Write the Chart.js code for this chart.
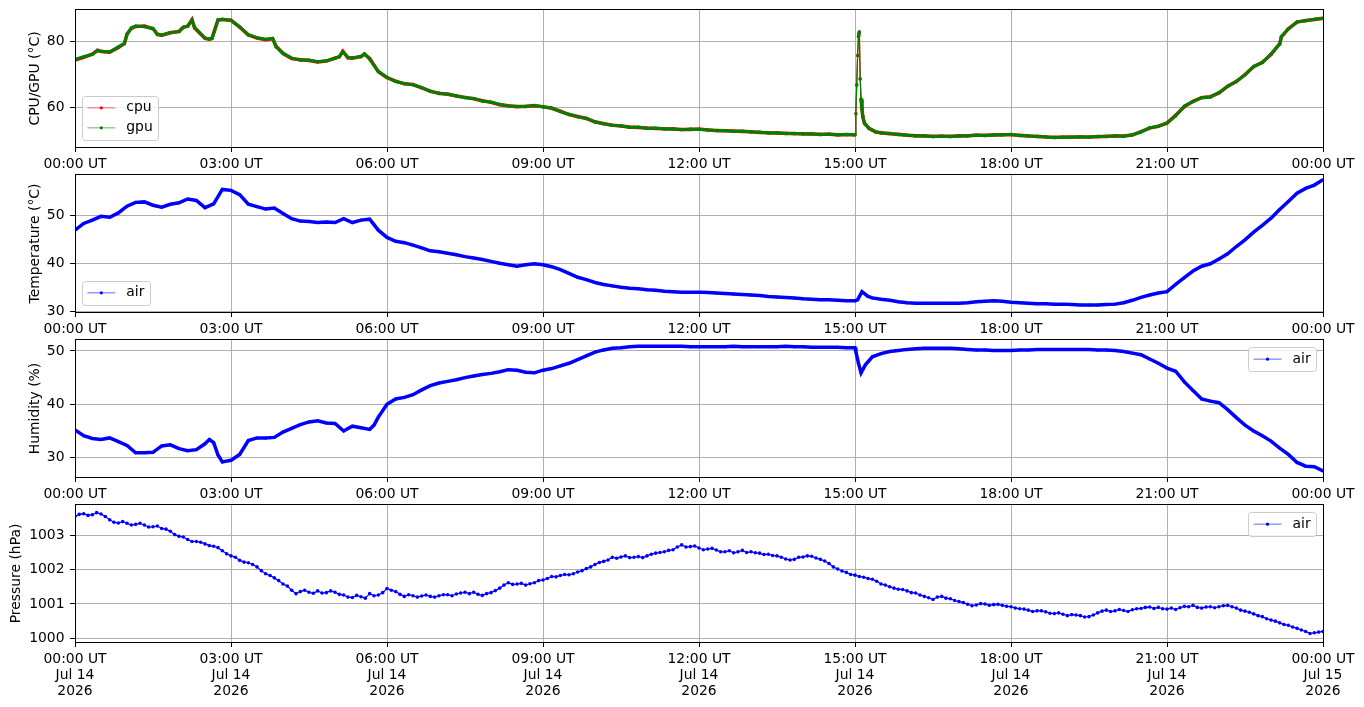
<!DOCTYPE html>
<html><head><meta charset="utf-8">
<script src="https://cdn.jsdelivr.net/npm/chart.js@4.4.1/dist/chart.umd.min.js"></script>
<style>
html,body{margin:0;padding:0;background:#fff;}
body{width:1364px;height:707px;position:relative;overflow:hidden;}
.p{position:absolute;left:0;width:1364px;}
</style></head><body>
<div class="p" style="top:0;height:175px"><canvas id="c1"></canvas></div>
<div class="p" style="top:165px;height:175px"><canvas id="c2"></canvas></div>
<div class="p" style="top:330px;height:175px"><canvas id="c3"></canvas></div>
<div class="p" style="top:495px;height:212px"><canvas id="c4"></canvas></div>
<script>
// ---- x axis (minutes since 00:00 UT, Jul 14 2026) ----
const xTickValues = [0,180,360,540,720,900,1080,1260,1440];
const xTickTimes = ["00:00 UT","03:00 UT","06:00 UT","09:00 UT","12:00 UT","15:00 UT","18:00 UT","21:00 UT","00:00 UT"];
const xTickDates = ["Jul 14","Jul 14","Jul 14","Jul 14","Jul 14","Jul 14","Jul 14","Jul 14","Jul 15"];
const xTickYears = ["2026","2026","2026","2026","2026","2026","2026","2026","2026"];

// ---- panel 1: CPU / GPU temperature ----
const tCpu = [0,10,20,26,30,40,50,57,60,65,70,80,90,95,100,110,120,125,130,135,138,150,155,158,161,165,170,180,190,200,210,220,228,232,240,250,260,270,280,290,300,305,309,315,320,330,334,340,350,360,
370,380,390,400,410,420,430,440,450,460,470,480,490,500,510,520,530,540,550,560,570,580,590,600,610,620,630,640,650,660,670,680,690,700,710,720,730,740,750,760,770,780,790,800,810,820,830,840,850,860,870,880,890,900,
901,902,903,904,905,906,907,908,909,911,916,924,930,
940,950,960,970,980,990,1000,1010,1020,1030,1040,1050,1060,1070,1080,1090,1100,1110,1120,1130,1140,1150,1160,1170,1180,1190,1200,1210,1220,1230,1240,1250,1260,1270,1280,1290,1300,1310,1320,1330,1340,1350,1360,1370,1380,1390,
1392,1400,1410,1420,1430,1440];
const cpuTemp = [74.3,75.1,76.1,77.3,76.9,76.7,78.1,79.3,82.2,83.9,84.5,84.6,83.8,82.2,81.8,82.6,83.0,84.2,84.6,86.6,84.0,80.9,80.6,80.8,83.3,86.5,86.6,86.4,84.3,81.9,81.0,80.5,80.8,78.5,76.3,74.8,74.4,74.2,73.7,74.0,74.9,75.3,77.0,75.0,74.9,75.4,76.1,74.8,70.8,69.0,
67.9,67.1,66.9,65.9,64.9,64.2,64.0,63.4,63.0,62.6,62.0,61.5,60.8,60.5,60.2,60.3,60.5,60.2,59.7,58.8,57.8,57.2,56.6,55.6,55.0,54.6,54.3,54.0,53.9,53.7,53.6,53.5,53.4,53.3,53.3,53.4,53.1,53.0,52.9,52.8,52.7,52.6,52.4,52.3,52.2,52.1,52.0,52.0,51.9,51.8,51.8,51.7,51.7,51.7,
58.2,66.7,75.8,81.3,82.8,68.8,62.4,59.7,57.1,55.2,53.6,52.5,52.3,
52.0,51.8,51.5,51.4,51.3,51.2,51.2,51.2,51.3,51.4,51.5,51.5,51.6,51.7,51.7,51.5,51.3,51.2,51.0,50.9,50.9,51.0,51.0,51.0,51.1,51.2,51.3,51.3,51.6,52.6,53.7,54.3,55.2,57.6,60.2,61.8,62.9,63.2,64.3,66.4,67.8,69.9,72.3,73.6,76.0,79.3,
81.3,83.8,85.8,86.3,86.6,87.0];
const gpuTemp = [74.5,75.3,76.0,77.1,77.0,76.8,78.3,79.4,82.0,84.1,84.6,84.4,83.9,82.0,81.9,82.7,82.9,84.3,84.5,86.4,84.2,81.0,80.7,80.9,83.1,86.4,86.7,86.3,84.4,82.0,81.1,80.6,80.9,78.3,76.4,74.9,74.3,74.3,73.8,74.1,74.8,75.4,76.8,75.1,75.0,75.3,76.2,74.6,70.9,69.1,
67.8,67.2,66.8,66.0,64.8,64.3,63.9,63.5,62.9,62.7,61.9,61.6,60.9,60.4,60.3,60.2,60.6,60.1,59.8,58.7,57.9,57.1,56.7,55.5,55.1,54.5,54.4,53.9,54.0,53.6,53.7,53.4,53.5,53.2,53.4,53.3,53.2,52.9,53.0,52.7,52.8,52.5,52.5,52.2,52.3,52.0,52.1,51.9,52.0,51.7,51.9,51.6,51.8,51.6,
58.0,66.9,75.6,81.5,82.9,68.5,62.6,59.5,57.3,55.0,53.7,52.6,52.2,
52.1,51.7,51.6,51.3,51.4,51.1,51.3,51.1,51.4,51.3,51.6,51.4,51.7,51.6,51.8,51.4,51.4,51.1,51.1,50.8,51.0,50.9,51.1,50.9,51.2,51.1,51.4,51.2,51.7,52.5,53.8,54.2,55.3,57.4,60.4,61.7,63.0,63.1,64.5,66.3,67.9,69.8,72.4,73.5,76.2,79.1,
81.5,83.7,85.9,86.2,86.7,86.9];

// ---- panel 2: air temperature ----
const tAir = [0,10,20,30,40,50,60,70,80,90,100,110,120,130,140,150,160,170,180,190,200,210,220,230,240,250,260,270,280,290,300,310,320,330,340,350,360,370,380,390,400,410,420,430,440,450,460,470,480,490,500,510,520,530,540,550,560,570,580,590,600,610,620,630,640,650,660,670,680,690,700,710,720,730,740,750,760,770,780,790,800,810,820,830,840,850,860,870,880,890,900,
903,908,915,
920,930,940,950,960,970,980,990,1000,1010,1020,1030,1040,1050,1060,1070,1080,1090,1100,1110,1120,1130,1140,1150,1160,1170,1180,1190,1200,1210,1220,1230,1240,1250,1260,1270,1280,1290,1300,1310,1320,1330,1340,1350,1360,1370,1380,1390,1400,1410,1420,1430,1440];
const airTemp = [46.9,48.3,49.0,49.8,49.6,50.5,51.9,52.7,52.8,52.1,
51.7,52.3,52.6,53.4,53.1,51.6,52.4,55.4,55.2,54.3,
52.3,51.8,51.3,51.5,50.4,49.3,48.8,48.7,48.5,48.6,
48.5,49.3,48.5,49.0,49.2,46.9,45.4,44.6,44.3,43.8,
43.2,42.6,42.4,42.1,41.8,41.4,41.1,40.8,40.4,40.0,
39.7,39.4,39.7,39.9,39.7,39.3,38.7,37.9,37.1,36.6,
36.0,35.6,35.3,35.0,34.8,34.7,34.5,34.4,34.2,34.1,
34.0,34.0,34.0,33.9,33.8,33.7,33.6,33.5,33.4,33.3,
33.1,33.0,32.9,32.8,32.6,32.5,32.4,32.4,32.3,32.2,
32.2,
32.4,34.1,33.1,
32.8,32.5,32.3,32.0,31.8,31.7,31.7,31.7,
31.7,31.7,31.7,31.8,32.0,32.1,32.2,32.1,31.9,31.8,
31.7,31.6,31.6,31.5,31.5,31.4,31.3,31.3,31.3,31.4,
31.5,31.8,32.3,32.9,33.4,33.8,34.1,35.6,37.0,38.4,
39.4,39.9,40.9,42.0,43.5,44.9,46.5,47.9,49.4,51.2,
52.9,54.6,55.6,56.3,57.4];

// ---- panel 3: humidity ----
const tHum = [0,10,20,30,40,50,60,70,80,90,100,110,120,130,140,150,155,160,165,170,
180,190,200,210,220,230,240,250,260,270,280,290,300,310,320,330,340,345,
350,360,370,380,390,400,410,420,430,440,450,460,470,480,490,500,510,520,530,540,550,560,570,580,590,600,610,620,630,640,650,660,670,680,690,700,710,720,730,740,750,760,770,780,790,800,810,820,830,840,850,860,870,880,890,900,
901,904,907,912,
920,930,940,950,960,970,980,990,1000,1010,1020,1030,1040,1050,1060,1070,1080,1090,1100,1110,1120,1130,1140,1150,1160,1170,1180,1190,1200,1210,1220,1230,1240,1250,1260,1270,1280,1290,1300,1310,1320,1330,1340,1350,1360,1370,1380,1390,1400,1410,1420,1430,1440];
const humidity = [35.2,34.1,33.6,33.4,33.7,33.0,32.3,30.9,30.9,31.0,32.2,32.4,31.7,31.3,31.5,32.6,33.4,32.8,30.5,29.2,
29.5,30.6,33.2,33.7,33.7,33.8,34.8,35.5,36.2,36.7,36.9,36.5,36.4,35.0,35.9,35.6,35.3,36.1,
37.6,40.0,41.0,41.3,41.8,42.7,43.5,44.0,44.3,44.6,
45.0,45.3,45.6,45.8,46.1,46.5,46.4,46.0,45.9,46.4,
46.7,47.2,47.7,48.4,49.1,49.8,50.2,50.5,50.6,50.8,
50.9,50.9,50.9,50.9,50.9,50.9,50.8,50.8,50.8,50.8,
50.8,50.9,50.8,50.8,50.8,50.8,50.8,50.9,50.8,50.8,
50.7,50.7,50.7,50.7,50.6,50.6,
49.9,47.7,45.9,47.4,
48.9,49.5,49.9,50.1,50.3,50.4,50.5,50.5,
50.5,50.5,50.4,50.3,50.2,50.2,50.1,50.1,50.1,50.2,
50.2,50.3,50.3,50.3,50.3,50.3,50.3,50.3,50.2,50.2,
50.1,49.9,49.6,49.3,48.5,47.7,46.8,46.2,44.2,42.6,
41.0,40.6,40.3,39.0,37.5,36.1,35.0,34.1,33.1,31.8,
30.6,29.1,28.4,28.3,27.5];

// ---- panel 4: pressure (readings on the 10-minute marks and in between) ----
const tPres = [0,10,20,30,40,50,60,70,80,90,100,110,120,130,140,150,160,170,180,190,200,210,220,230,240,250,260,270,280,290,300,310,320,330,340,350,360,370,380,390,400,410,420,430,440,450,460,470,480,490,500,510,520,530,540,550,560,570,580,590,600,610,620,630,640,650,660,670,680,690,700,710,720,730,740,750,760,770,780,790,800,810,820,830,840,850,860,870,880,890,900,910,920,930,940,950,960,970,980,990,1000,1010,1020,1030,1040,1050,1060,1070,1080,1090,1100,1110,1120,1130,1140,1150,1160,1170,1180,1190,1200,1210,1220,1230,1240,1250,1260,1270,1280,1290,1300,1310,1320,1330,1340,1350,1360,1370,1380,1390,1400,1410,1420,1430,1440];
const pressure = [1003.55,1003.63,1003.60,1003.62,1003.45,1003.36,1003.35,1003.32,1003.30,1003.25,
1003.20,1003.12,1002.97,1002.88,1002.82,1002.75,1002.68,1002.55,1002.40,1002.27,
1002.20,1002.08,1001.88,1001.76,1001.58,1001.40,1001.36,1001.34,1001.38,1001.33,
1001.34,1001.26,1001.19,1001.21,1001.30,1001.26,1001.45,1001.36,1001.22,1001.24,
1001.23,1001.22,1001.24,1001.27,1001.29,1001.34,1001.34,1001.25,1001.33,1001.46,
1001.62,1001.58,1001.55,1001.62,1001.70,1001.80,1001.83,1001.85,1001.93,1002.03,
1002.15,1002.24,1002.36,1002.37,1002.35,1002.38,1002.40,1002.48,1002.52,1002.58,
1002.72,1002.67,1002.63,1002.60,1002.57,1002.52,1002.49,1002.56,1002.52,1002.48,
1002.45,1002.40,1002.31,1002.30,1002.37,1002.39,1002.30,1002.18,1002.02,1001.92,
1001.84,1001.78,1001.72,1001.58,1001.50,1001.43,1001.38,1001.32,1001.22,1001.13,
1001.22,1001.15,1001.07,1000.99,1000.97,1001.00,1000.98,1000.96,1000.92,1000.86,
1000.82,1000.80,1000.77,1000.72,1000.70,1000.69,1000.66,1000.63,1000.74,1000.82,
1000.80,1000.81,1000.83,1000.87,1000.91,1000.90,1000.85,1000.84,1000.93,1000.96,
1000.88,1000.92,1000.92,1000.96,1000.88,1000.79,1000.71,1000.63,1000.53,1000.45,
1000.38,1000.29,1000.20,1000.16,1000.20];
const tPresMid = [5,15,25,35,45,55,65,75,85,95,105,115,125,135,145,155,165,175,185,195,205,215,225,235,245,255,265,275,285,295,305,315,325,335,345,355,365,375,385,395,405,415,425,435,445,455,465,475,485,495,505,515,525,535,545,555,565,575,585,595,605,615,625,635,645,655,665,675,685,695,705,715,725,735,745,755,765,775,785,795,805,815,825,835,845,855,865,875,885,895,905,915,925,935,945,955,965,975,985,995,1005,1015,1025,1035,1045,1055,1065,1075,1085,1095,1105,1115,1125,1135,1145,1155,1165,1175,1185,1195,1205,1215,1225,1235,1245,1255,1265,1275,1285,1295,1305,1315,1325,1335,1345,1355,1365,1375,1385,1395,1405,1415,1425,1435];
const pressureMid = [1003.61,1003.58,1003.66,1003.55,1003.38,1003.40,1003.30,1003.35,1003.24,1003.27,
1003.18,1003.02,1002.95,1002.82,1002.80,1002.70,1002.64,1002.46,1002.36,1002.22,
1002.15,1001.97,1001.83,1001.68,1001.52,1001.30,1001.40,1001.31,1001.32,1001.38,
1001.28,1001.20,1001.25,1001.17,1001.24,1001.33,1001.40,1001.28,1001.27,1001.20,
1001.26,1001.20,1001.27,1001.24,1001.32,1001.30,1001.28,1001.30,1001.39,1001.55,
1001.57,1001.60,1001.59,1001.68,1001.74,1001.79,1001.86,1001.88,1001.97,1002.08,
1002.21,1002.28,1002.33,1002.40,1002.36,1002.35,1002.45,1002.50,1002.56,1002.66,
1002.66,1002.69,1002.58,1002.62,1002.52,1002.55,1002.52,1002.50,1002.49,1002.44,
1002.41,1002.36,1002.28,1002.36,1002.40,1002.34,1002.25,1002.08,1001.96,1001.86,
1001.80,1001.74,1001.66,1001.55,1001.46,1001.42,1001.33,1001.26,1001.18,1001.20,
1001.17,1001.10,1001.04,1000.95,1001.01,1000.96,1000.99,1000.93,1000.88,1000.85,
1000.78,1000.80,1000.73,1000.74,1000.66,1000.68,1000.62,1000.68,1000.79,1000.78,
1000.84,1000.78,1000.86,1000.90,1000.87,1000.86,1000.88,1000.89,1000.92,1000.90,
1000.91,1000.89,1000.95,1000.92,1000.82,1000.76,1000.66,1000.57,1000.50,1000.40,
1000.33,1000.24,1000.14,1000.18];

// ---- y axes ----
const yCpuTicks = [60,80];
const yAirTicks = [30,40,50];
const yHumTicks = [30,40,50];
const yPresTicks = [1000,1001,1002,1003];

Chart.defaults.font.family = '"DejaVu Sans", sans-serif';
Chart.defaults.font.size = 13.9;
Chart.defaults.color = '#000';

function pts(t, v) { return t.map((x, i) => ({x: x, y: v[i]})); }
function merged(tA, vA, tB, vB) { return pts(tA, vA).concat(pts(tB, vB)).sort((a, b) => a.x - b.x); }
// very steep segments (the 15:00 spike) are drawn thin, like the sparse markers there
const thinSteep = { borderWidth: c => Math.abs(c.p1.parsed.y - c.p0.parsed.y) > 5 ? 1.2 : undefined };

const frame = {
  id: 'frame',
  afterDatasetsDraw(chart) {
    const ctx = chart.ctx, a = chart.chartArea;
    const l = Math.round(a.left), t = Math.round(a.top), r = Math.round(a.right), b = Math.round(a.bottom);
    ctx.save();
    ctx.strokeStyle = '#000'; ctx.lineWidth = 1;
    ctx.strokeRect(l + 0.5, t - 0.5, r - l, b - t + 1);
    ctx.restore();
  }
};

const mplLegend = {
  id: 'mplLegend',
  afterDraw(chart, args, opts) {
    const loc = opts && opts.loc; if (!loc) return;
    const ctx = chart.ctx, a = chart.chartArea;
    const fs = 13.9, pad = 5.4, hl = 27.8, htp = 11.1, rowH = 13.5, gap = 6.5, bap = 7;
    const items = chart.data.datasets.map(d => ({label: d.label, color: d.legendColor}));
    ctx.save();
    ctx.font = fs + 'px "DejaVu Sans"';
    const tw = Math.max(...items.map(it => ctx.measureText(it.label).width));
    const w = pad * 2 + hl + htp + tw;
    const h = pad * 2 + rowH * items.length + gap * (items.length - 1);
    const x = loc.indexOf('left') >= 0 ? a.left + bap : a.right - bap - w;
    const y = loc.indexOf('upper') >= 0 ? a.top + bap : a.bottom - bap - h;
    const rr = 3, X = Math.round(x) + 0.5, Y = Math.round(y) + 0.5, W = Math.round(w), H = Math.round(h);
    ctx.beginPath();
    ctx.moveTo(X + rr, Y); ctx.lineTo(X + W - rr, Y); ctx.arcTo(X + W, Y, X + W, Y + rr, rr);
    ctx.lineTo(X + W, Y + H - rr); ctx.arcTo(X + W, Y + H, X + W - rr, Y + H, rr);
    ctx.lineTo(X + rr, Y + H); ctx.arcTo(X, Y + H, X, Y + H - rr, rr);
    ctx.lineTo(X, Y + rr); ctx.arcTo(X, Y, X + rr, Y, rr); ctx.closePath();
    ctx.fillStyle = 'rgba(255,255,255,0.8)'; ctx.fill();
    ctx.strokeStyle = '#cccccc'; ctx.lineWidth = 1; ctx.stroke();
    items.forEach((it, i) => {
      const cy = y + pad + rowH / 2 + i * (rowH + gap);
      const lx = x + pad;
      ctx.globalAlpha = 0.6; ctx.strokeStyle = it.color; ctx.lineWidth = 1;
      ctx.beginPath(); ctx.moveTo(lx, cy); ctx.lineTo(lx + hl, cy); ctx.stroke();
      ctx.globalAlpha = 1; ctx.fillStyle = it.color;
      ctx.beginPath(); ctx.arc(lx + hl / 2, cy, 1.6, 0, Math.PI * 2); ctx.fill();
      ctx.fillStyle = '#000'; ctx.textBaseline = 'middle'; ctx.textAlign = 'left';
      ctx.fillText(it.label, lx + hl + htp, cy);
    });
    ctx.restore();
  }
};

const gridOpts = { color: '#b0b0b0', lineWidth: 1, tickColor: '#000', tickLength: 5, tickWidth: 1 };

function panel(id, datasets, ycfg, labelFn, xAxisH, legendLoc) {
  return new Chart(document.getElementById(id), {
    type: 'line',
    data: { datasets: datasets },
    plugins: [frame, mplLegend],
    options: {
      responsive: true, maintainAspectRatio: false, animation: false,
      layout: { padding: { top: 10, left: 0, right: 41, bottom: 0 } },
      plugins: { legend: { display: false }, tooltip: { enabled: false }, mplLegend: { loc: legendLoc } },
      elements: { line: { tension: 0 } },
      scales: {
        x: {
          type: 'linear', min: 0, max: 1440,
          afterBuildTicks: s => { s.ticks = xTickValues.map(v => ({ value: v })); },
          afterFit: s => { s.height = xAxisH; s.paddingLeft = 0; s.paddingRight = 0; },
          ticks: { autoSkip: false, maxRotation: 0, minRotation: 0, padding: 4, callback: (v, i) => labelFn(i), font: { lineHeight: 1.151 } },
          grid: gridOpts, border: { display: false }
        },
        y: {
          type: 'linear', min: ycfg.min, max: ycfg.max,
          afterBuildTicks: s => { s.ticks = ycfg.ticks.map(v => ({ value: v })); },
          afterFit: s => { s.width = 75; s.paddingTop = 0; s.paddingBottom = 0; },
          ticks: { padding: 5.5, callback: v => String(v) },
          grid: gridOpts, border: { display: false },
          title: { display: true, text: ycfg.title, padding: { top: ycfg.tpad, bottom: 0 } }
        }
      }
    }
  });
}

const timeLabel = i => xTickTimes[i];
const fullLabel = i => [xTickTimes[i], xTickDates[i], xTickYears[i]];

panel('c1', [
  { label: 'cpu', data: pts(tCpu, cpuTemp), borderColor: '#ff0000', legendColor: '#ff0000', borderWidth: 3.5, pointRadius: 1.6, pointBorderWidth: 0, pointBackgroundColor: '#ff0000', segment: thinSteep, order: 2 },
  { label: 'gpu', data: pts(tCpu, gpuTemp), borderColor: '#008000', legendColor: '#008000', borderWidth: 3, pointRadius: 1.6, pointBorderWidth: 0, pointBackgroundColor: '#008000', segment: thinSteep, order: 1 }
], { min: 47.97, max: 89.48, ticks: yCpuTicks, title: 'CPU/GPU (°C)', tpad: 26.8 }, timeLabel, 28, 'lower left');

panel('c2', [
  { label: 'air', data: pts(tAir, airTemp), borderColor: '#0000ff', legendColor: '#0000ff', borderWidth: 3.5, pointRadius: 1.5, pointBorderWidth: 0, pointBackgroundColor: '#0000ff' }
], { min: 29.86, max: 58.40, ticks: yAirTicks, title: 'Temperature (°C)', tpad: 26.8 }, timeLabel, 28, 'lower left');

panel('c3', [
  { label: 'air', data: pts(tHum, humidity), borderColor: '#0000ff', legendColor: '#0000ff', borderWidth: 3.5, pointRadius: 1.5, pointBorderWidth: 0, pointBackgroundColor: '#0000ff' }
], { min: 26.37, max: 52.06, ticks: yHumTicks, title: 'Humidity (%)', tpad: 26.8 }, timeLabel, 28, 'upper right');

panel('c4', [
  { label: 'air', data: merged(tPres, pressure, tPresMid, pressureMid), borderColor: '#0000ff', legendColor: '#0000ff', borderWidth: 1.2, pointRadius: 1.8, pointBorderWidth: 0, pointBackgroundColor: '#0000ff' }
], { min: 999.892, max: 1003.883, ticks: yPresTicks, title: 'Pressure (hPa)', tpad: 7.9 }, fullLabel, 65, 'upper right');
</script>
</body></html>
